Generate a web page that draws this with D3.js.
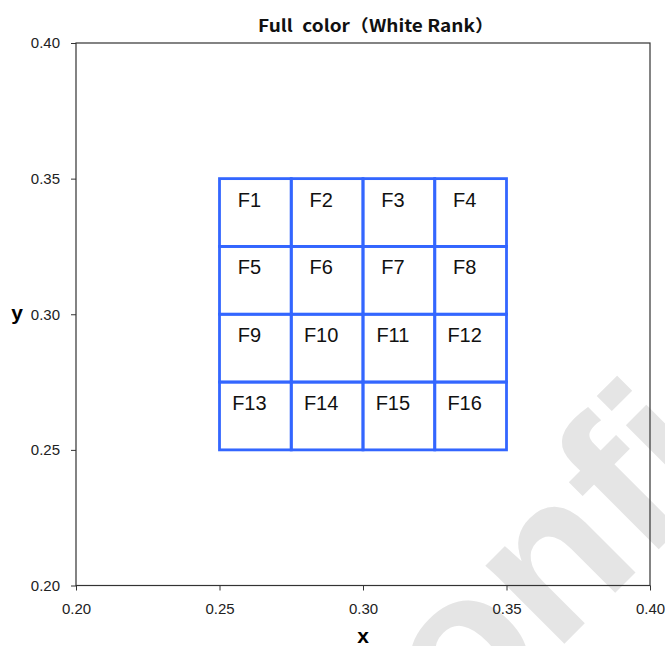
<!DOCTYPE html>
<html>
<head>
<meta charset="utf-8">
<script src="https://cdn.jsdelivr.net/npm/d3@7"></script>
<style>
  body { margin: 0; background: #fff; }
  svg { display: block; }
</style>
</head>
<body>
<script>
const width = 665;
const height = 646;

// chart data
const titleText = "Full\u2002color\uFF08White Rank\uFF09";
const xTicks = [0.20, 0.25, 0.30, 0.35, 0.40];
const yTicks = [0.20, 0.25, 0.30, 0.35, 0.40];
const gridX = [0.25, 0.275, 0.30, 0.325, 0.35];
const gridY = [0.35, 0.325, 0.30, 0.275, 0.25];
const cellLabels = ["F1", "F2", "F3", "F4", "F5", "F6", "F7", "F8",
                    "F9", "F10", "F11", "F12", "F13", "F14", "F15", "F16"];
const watermark = "Confidential";

const blue = "#3366ff";
const font = "'Liberation Sans', Arial, sans-serif";

const x = d3.scaleLinear().domain([0.2, 0.4]).range([76, 650]);
const y = d3.scaleLinear().domain([0.2, 0.4]).range([585.5, 43]);

const svg = d3.select("body")
  .append("svg")
  .attr("width", width)
  .attr("height", height);

// watermark behind everything
svg.append("text")
  .attr("transform", "translate(356,852) rotate(-45)")
  .attr("font-family", font)
  .attr("font-weight", "bold")
  .attr("font-size", 210)
  .attr("fill", "#e5e5e5")
  .text(watermark);

// title
svg.append("text")
  .attr("x", 376)
  .attr("y", 32)
  .attr("text-anchor", "middle")
  .attr("font-family", "'Noto Sans CJK JP', 'Noto Sans', sans-serif")
  .attr("font-weight", "bold")
  .attr("font-size", 17)
  .attr("textLength", 236)
  .attr("lengthAdjust", "spacingAndGlyphs")
  .attr("fill", "#111")
  .text(titleText);

// axes
const xAxis = d3.axisBottom(x).tickValues(xTicks).tickFormat(d3.format(".2f"))
  .tickSize(5).tickSizeOuter(0).tickPadding(13);
const yAxis = d3.axisLeft(y).tickValues(yTicks).tickFormat(d3.format(".2f"))
  .tickSize(5).tickSizeOuter(0).tickPadding(11);

const gx = svg.append("g").attr("transform", "translate(0,585.5)").call(xAxis);
const gy = svg.append("g").attr("transform", "translate(76,0)").call(yAxis);

[gx, gy].forEach(g => {
  g.select(".domain").remove();
  g.selectAll("line").attr("stroke", "#333");
  g.selectAll("text")
    .attr("font-family", font)
    .attr("font-size", 15)
    .attr("fill", "#222");
});

// plot frame
svg.append("rect")
  .attr("x", x(0.2))
  .attr("y", y(0.4))
  .attr("width", x(0.4) - x(0.2))
  .attr("height", y(0.2) - y(0.4))
  .attr("fill", "none")
  .attr("stroke", "#333")
  .attr("stroke-width", 1.2);

// axis titles
svg.append("text")
  .attr("x", x(0.3))
  .attr("y", 643)
  .attr("text-anchor", "middle")
  .attr("font-family", font)
  .attr("font-weight", "bold")
  .attr("font-size", 21)
  .text("x");

svg.append("text")
  .attr("x", 17)
  .attr("y", y(0.3) + 6)
  .attr("text-anchor", "middle")
  .attr("font-family", font)
  .attr("font-weight", "bold")
  .attr("font-size", 21)
  .text("y");

// grid cells
const cells = cellLabels.map((label, i) => ({
  label: label,
  col: i % 4,
  row: Math.floor(i / 4)
}));

svg.selectAll("rect.cell")
  .data(cells)
  .enter()
  .append("rect")
  .attr("class", "cell")
  .attr("x", d => x(gridX[d.col]))
  .attr("y", d => y(gridY[d.row]))
  .attr("width", d => x(gridX[d.col + 1]) - x(gridX[d.col]))
  .attr("height", d => y(gridY[d.row + 1]) - y(gridY[d.row]))
  .attr("fill", "none")
  .attr("stroke", blue)
  .attr("stroke-width", 2.8);

svg.selectAll("text.cell")
  .data(cells)
  .enter()
  .append("text")
  .attr("class", "cell")
  .attr("x", d => (x(gridX[d.col]) + x(gridX[d.col + 1])) / 2 - 6)
  .attr("y", d => y(gridY[d.row]) + 28)
  .attr("text-anchor", "middle")
  .attr("font-family", font)
  .attr("font-size", 20)
  .attr("fill", "#111")
  .text(d => d.label);
</script>
</body>
</html>
